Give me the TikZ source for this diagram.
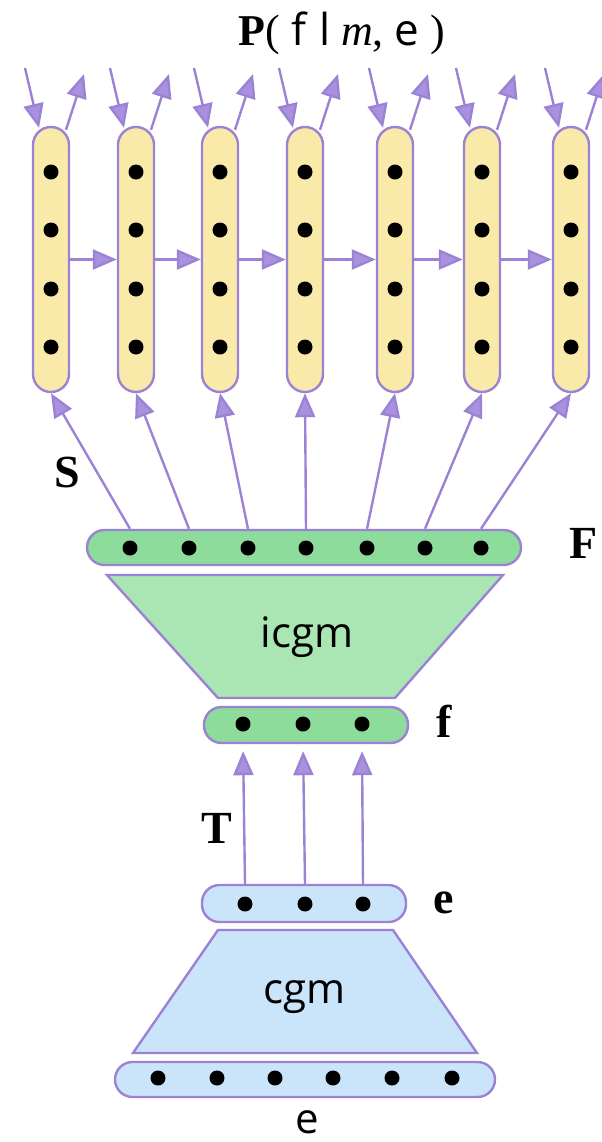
\documentclass[tikz,border=0pt]{standalone}
\usepackage{fontspec}
\setmainfont{Liberation Serif}
\setsansfont{Open Sans}
\usetikzlibrary{arrows.meta,calc}

\definecolor{lineviolet}{RGB}{155,130,212}
\definecolor{headviolet}{RGB}{170,145,224}
\definecolor{colyellow}{RGB}{250,234,170}
\definecolor{bargreen}{RGB}{142,220,155}
\definecolor{trapgreen}{RGB}{170,229,180}
\definecolor{paleblue}{RGB}{202,229,250}

\tikzset{
  link/.style={draw=lineviolet, line width=1.2pt,
    -{Triangle[length=12pt,width=10pt,fill=headviolet]}},
  unit/.style={circle, fill=black, inner sep=0pt, minimum size=7.5pt},
  column/.style={draw=lineviolet, line width=1.2pt, fill=colyellow,
    rounded corners=9pt, minimum width=18pt, minimum height=132.5pt, inner sep=0pt},
  layer/.style={draw=lineviolet, line width=1.2pt, rounded corners=8.75pt,
    minimum height=17.5pt, inner sep=0pt},
  stage/.style={draw=lineviolet, line width=1.2pt},
  lbl/.style={font=\fontsize{23}{26}\selectfont\bfseries},
  block/.style={font=\sffamily\fontsize{21}{24}\selectfont}
}

\begin{document}
\begin{tikzpicture}[x=0.5pt, y=-0.5pt]

    \useasboundingbox (0,0) rectangle (601,1142);

    % title
    \node[anchor=base, font=\fontsize{22}{26}\selectfont] (P) at (342,45)
      {\textbf{P}( \textsf{f} \textsf{l} \textit{m}, \textsf{e} )};

    % output columns
    \foreach \n/\x in {1/51,2/136,3/220,4/305,5/395,6/482,7/571} {
      \node[column] (c\n) at (\x,259.5) {};
      \foreach \y in {172,230,289,347}
        \node[unit] at (\x,\y) {};
      \coordinate (in\n) at (\x-26,68);
      \coordinate (out\n) at (\x+33,74);
      \draw[link] (in\n) -- ($(c\n.north)+(-12,2)$);
      \draw[link] ($(c\n.north)+(15,4)$) -- (out\n);
    }
    \foreach \n [count=\m from 2] in {1,...,6}
      \draw[link] (c\n.east) -- (c\m.west);

    % F layer
    \node[layer, fill=bargreen, minimum width=217pt] (F) at (304,547.5) {};
    \foreach \n/\x in {1/130,2/189,3/248,4/306,5/367,6/425,7/481}
      \node[unit] (F\n) at (\x,548) {};
    \foreach \n in {1,...,7}
      \draw[link] (F\n |- F.north) -- (c\n.south);
    \node[lbl] (S) at (67,472) {S};
    \node[lbl, anchor=base] (Fl) at (584,558) {F};

    % icgm
    \draw[stage, fill=trapgreen] (107,575) -- (503,575) -- (395,698) -- (218,698) -- cycle;
    \node[block, anchor=base] (icgm) at (307,647) {icgm};

    % f layer
    \node[layer, fill=bargreen, minimum width=102pt, minimum height=18pt] (f) at (306,725) {};
    \foreach \n/\x in {1/243,2/303,3/362}
      \node[unit] (f\n) at (\x,724) {};
    \node[lbl, anchor=base] (fl) at (444,737) {f};

    % e layer
    \node[layer, fill=paleblue, minimum width=102pt, minimum height=18.5pt] (e) at (304,903.5) {};
    \foreach \n/\x in {1/245,2/305,3/363}
      \node[unit] (e\n) at (\x,904) {};
    \node[lbl, anchor=base] (el) at (444,913) {e};
    \foreach \n in {1,2,3}
      \draw[link, shorten >=3.5pt] (e\n |- e.north) -- (f\n |- f.south);
    \node[lbl, anchor=base] (T) at (217,843) {T};

    % cgm
    \draw[stage, fill=paleblue] (218,930) -- (393,930) -- (477,1053) -- (133,1053) -- cycle;
    \node[block, anchor=base] (cgm) at (305,1003) {cgm};

    % input layer
    \node[layer, fill=paleblue, minimum width=190pt] (E) at (305,1079.5) {};
    \foreach \n/\x in {1/158,2/217,3/275,4/333,5/392,6/452}
      \node[unit] (E\n) at (\x,1078) {};
    \node[block, anchor=base] (El) at (307,1133) {e};

\end{tikzpicture}
\end{document}
